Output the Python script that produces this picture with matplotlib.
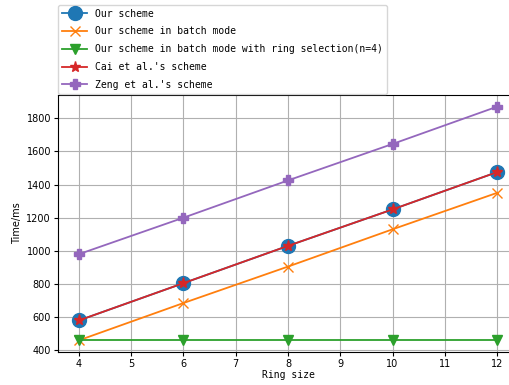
import matplotlib
matplotlib.use('Agg')
import matplotlib.pyplot as plt

# ring sizes and timings (ms)
ring_size = [4, 6, 8, 10, 12]
our_scheme = [580, 805, 1030, 1250, 1475]
our_batch = [460, 685, 905, 1130, 1350]
our_batch_sel = [460, 460, 460, 460, 460]
cai_scheme = [580, 805, 1030, 1250, 1475]
zeng_scheme = [980, 1200, 1425, 1645, 1870]

labels = ['Our scheme',
          'Our scheme in batch mode',
          'Our scheme in batch mode with ring selection(n=4)',
          "Cai et al.'s scheme",
          "Zeng et al.'s scheme"]

mono = 'DejaVu Sans Mono'

fig = plt.figure(figsize=(5.1, 3.85), dpi=100)
ax = fig.add_axes([58/510., 33/385., 460/510., 257/385.])

ax.plot(ring_size, our_scheme, marker='o', markersize=10, lw=1.3, color='tab:blue', label=labels[0])
ax.plot(ring_size, our_batch, marker='x', markersize=7, lw=1.3, color='tab:orange', label=labels[1])
ax.plot(ring_size, our_batch_sel, marker='v', markersize=7, lw=1.3, color='tab:green', label=labels[2])
ax.plot(ring_size, cai_scheme, marker='*', markersize=8, lw=1.3, color='tab:red', label=labels[3])
ax.plot(ring_size, zeng_scheme, marker='P', markersize=7, lw=1.3, color='tab:purple', label=labels[4])

ax.set_xticks(range(4, 13))
ax.set_yticks(range(400, 1801, 200))
ax.grid(True, color='#b0b0b0', linewidth=0.8)
ax.tick_params(labelsize=7, pad=2, length=3)
ax.set_xlabel('Ring size', fontsize=7, family=mono, labelpad=1)
ax.set_ylabel('Time/ms', fontsize=7, labelpad=3)

ax.legend(loc='lower left', bbox_to_anchor=(0.0, 1.005), prop={'family': mono, 'size': 7},
          borderaxespad=0.0, handlelength=2.6, labelspacing=0.8)

fig.savefig('out.png', dpi=100)
